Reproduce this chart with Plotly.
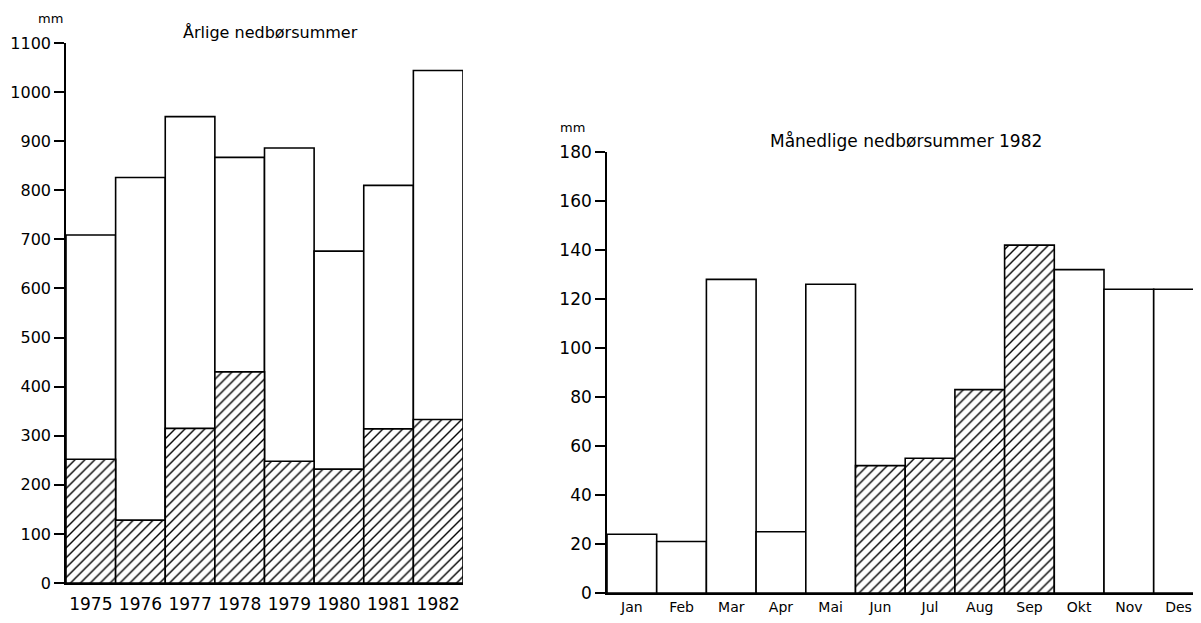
import plotly.graph_objects as go

# ---- data ----
years = ["1975", "1976", "1977", "1978", "1979", "1980", "1981", "1982"]
annual_total = [709, 826, 950, 867, 886, 676, 810, 1044]
annual_hatched = [252, 128, 315, 430, 248, 232, 314, 333]

months = ["Jan", "Feb", "Mar", "Apr", "Mai", "Jun", "Jul", "Aug", "Sep", "Okt", "Nov", "Des"]
monthly_1982 = [24, 21, 128, 25, 126, 52, 55, 83, 142, 132, 124, 124]
monthly_hatched = [False, False, False, False, False, True, True, True, True, False, False, False]

FONT = "DejaVu Sans, Liberation Sans, Arial, sans-serif"
# page body has an 8px margin; keep the figure inside the 1201x623 window
OFF = 8
W, H = 1201 - 2 * OFF, 623 - 2 * OFF

PATTERN = dict(fgcolor="black", bgcolor="white", size=7, solidity=0.2)

fig = go.Figure()

# Left chart: annual totals (white) with hatched portion overlaid
fig.add_trace(go.Bar(
    x=list(range(len(years))), y=annual_total, width=1,
    marker=dict(color="white", line=dict(color="black", width=1.6)),
    xaxis="x", yaxis="y", showlegend=False, hoverinfo="skip"))
fig.add_trace(go.Bar(
    x=list(range(len(years))), y=annual_hatched, width=1,
    marker=dict(color="white", line=dict(color="black", width=1.6),
                pattern=dict(PATTERN, shape="/")),
    xaxis="x", yaxis="y", showlegend=False, hoverinfo="skip"))

# Right chart: monthly totals 1982
fig.add_trace(go.Bar(
    x=list(range(len(months))), y=monthly_1982, width=1,
    marker=dict(color="white", line=dict(color="black", width=1.6),
                pattern=dict(PATTERN, shape=["/" if h else "" for h in monthly_hatched])),
    xaxis="x2", yaxis="y2", showlegend=False, hoverinfo="skip"))

# helpers: screen pixel (reference image) -> paper fraction
def px_x(p):
    return min(1.0, (p - OFF) / W)

def px_y(p):
    return (H - (p - OFF)) / H

axis_common = dict(showgrid=False, zeroline=False, showline=True, linecolor="black",
                   linewidth=1.6, automargin=False,
                   tickfont=dict(family=FONT, size=16, color="black"))

# right chart: bar unit width in px, axis starts at screen x=607
unit2 = 49.7
x2_end = -0.5 + (OFF + W - 607) / unit2

fig.update_layout(
    template="none",
    width=W, height=H, margin=dict(l=0, r=0, t=0, b=0, pad=0), autosize=False,
    plot_bgcolor="white", paper_bgcolor="white", barmode="overlay",
    font=dict(family=FONT, color="black"),
    xaxis=dict(axis_common, domain=[px_x(66), px_x(463)], range=[-0.5, 7.5],
               tickmode="array", tickvals=list(range(len(years))), ticktext=years,
               ticks="", ticklabelstandoff=5, anchor="y",
               tickfont=dict(family=FONT, size=17, color="black")),
    yaxis=dict(axis_common, domain=[px_y(583), px_y(43)], range=[0, 1100],
               tickmode="array", tickvals=list(range(0, 1101, 100)),
               ticks="outside", ticklen=10, tickwidth=1.6, tickcolor="black", anchor="x"),
    xaxis2=dict(axis_common, domain=[px_x(607), 1.0], range=[-0.5, x2_end],
                tickmode="array", tickvals=list(range(len(months))), ticktext=months,
                ticks="", ticklabelstandoff=0, ticklabeloverflow="allow", anchor="y2",
                tickfont=dict(family=FONT, size=14, color="black")),
    yaxis2=dict(axis_common, domain=[px_y(593), px_y(152)], range=[0, 180],
                tickmode="array", tickvals=list(range(0, 181, 20)),
                ticks="outside", ticklen=10, tickwidth=1.6, tickcolor="black", anchor="x2",
                tickfont=dict(family=FONT, size=17, color="black")),
    annotations=[
        dict(text="mm", x=px_x(50), y=px_y(18), xref="paper", yref="paper",
             xanchor="center", yanchor="middle",
             showarrow=False, font=dict(family=FONT, size=13)),
        dict(text="Årlige nedbørsummer", x=px_x(270), y=px_y(33), xref="paper", yref="paper",
             xanchor="center", yanchor="middle",
             showarrow=False, font=dict(family=FONT, size=16)),
        dict(text="mm", x=px_x(572), y=px_y(128), xref="paper", yref="paper",
             xanchor="center", yanchor="middle",
             showarrow=False, font=dict(family=FONT, size=13)),
        dict(text="Månedlige nedbørsummer 1982", x=px_x(906), y=px_y(141), xref="paper", yref="paper",
             xanchor="center", yanchor="middle",
             showarrow=False, font=dict(family=FONT, size=17)),
    ],
)

fig.write_html("out.html")
